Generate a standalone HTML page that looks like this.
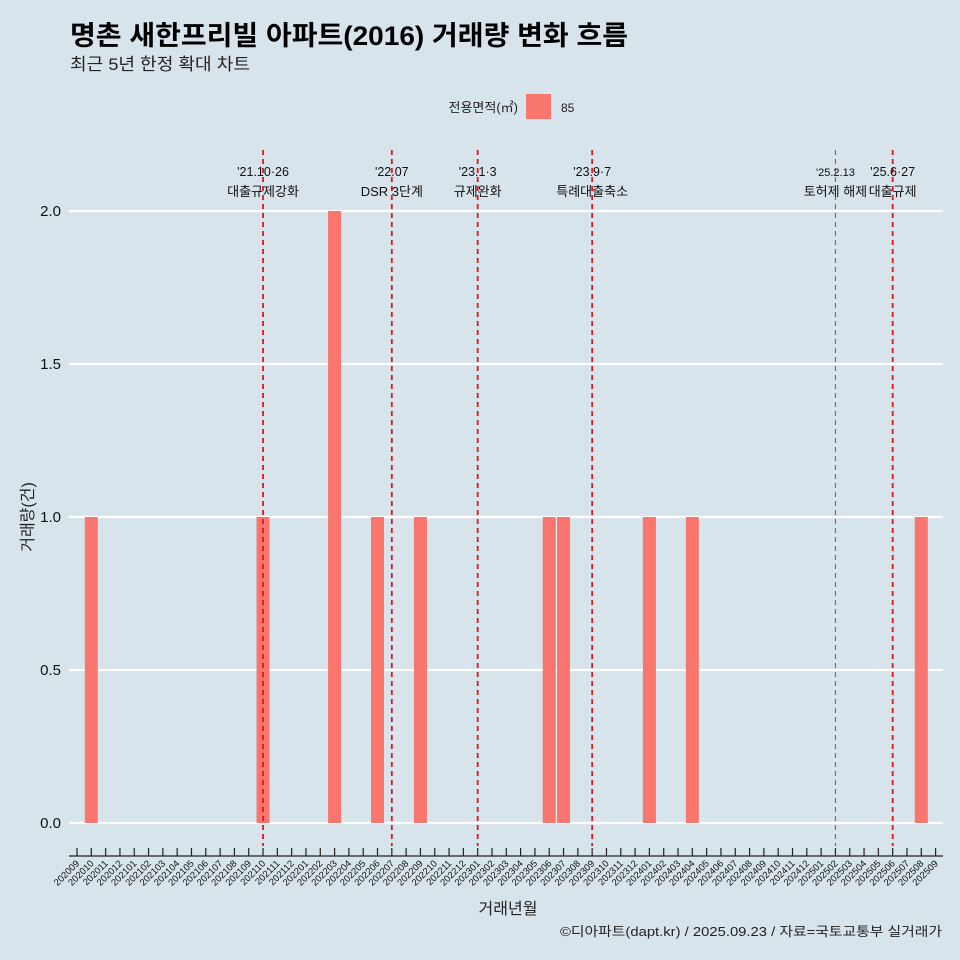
<!DOCTYPE html>
<html><head><meta charset="utf-8"><style>
body{margin:0;background:#d7e4eb;}
svg{display:block;font-family:"Liberation Sans","Noto Sans CJK KR",sans-serif;}
</style></head><body>
<svg id="chart" width="960" height="960" viewBox="0 0 960 960">
<rect width="960" height="960" fill="#d7e4eb"/>
<text x="70" y="45" font-size="27" font-weight="bold" fill="#000" textLength="558" lengthAdjust="spacingAndGlyphs">명촌 새한프리빌 아파트(2016) 거래량 변화 흐름</text>
<text x="70" y="70" font-size="17" fill="#222" textLength="180" lengthAdjust="spacingAndGlyphs">최근 5년 한정 확대 차트</text>
<g>
<text x="518" y="112" font-size="13" text-anchor="end" fill="#222">전용면적(㎡)</text>
<rect x="526" y="94" width="25" height="25" fill="#f8766d"/>
<text x="561" y="112" font-size="12" fill="#222">85</text>
</g>
<g id="grid"></g><g id="bars"></g><g id="vlines"></g><g id="xaxis"></g><g id="yaxis"></g>
<text x="508" y="914" font-size="16" text-anchor="middle" fill="#222">거래년월</text>
<text transform="translate(33,517) rotate(-90)" font-size="16" text-anchor="middle" fill="#222">거래량(건)</text>
<text x="942" y="936" font-size="13" text-anchor="end" fill="#222" textLength="382" lengthAdjust="spacingAndGlyphs">©디아파트(dapt.kr) / 2025.09.23 / 자료=국토교통부 실거래가</text>
</svg>
<script>
const months = [];
for (let y = 2020, m = 9; !(y === 2025 && m === 10); ) { months.push(String(y) + String(m).padStart(2, '0')); m++; if (m > 12) { m = 1; y++; } }
const barMonths = ['202010','202110','202203','202206','202209','202306','202307','202401','202404','202508'];
const barValues = [1,1,2,1,1,1,1,1,1,1];
const yTicks = [0, 0.5, 1, 1.5, 2];
const yTickLabels = ['0.0','0.5','1.0','1.5','2.0'];
const eventMonths = ['202110','202207','202301','202309','202502','202506'];
const eventDates = ["'21.10·26","'22.07","'23.1·3","'23.9·7","'25.2.13","'25.6·27"];
const eventLabels = ['대출규제강화','DSR 3단계','규제완화','특례대출축소','토허제 해제','대출규제'];

const NS = 'http://www.w3.org/2000/svg';
const X0 = 77, DX = 14.31, Y0 = 823, YS = 306;
const x = m => X0 + months.indexOf(m) * DX;
const xi = i => X0 + i * DX;
const y = v => Y0 - v * YS;
function mk(tag, attrs, parent, txt) {
  const e = document.createElementNS(NS, tag);
  for (const k in attrs) e.setAttribute(k, attrs[k]);
  if (txt !== undefined) e.textContent = txt;
  document.getElementById(parent).appendChild(e);
  return e;
}
yTicks.forEach((v, i) => {
  const g = mk('line', {x1: 69, x2: 943, y1: y(v), y2: y(v), stroke: '#fff', 'stroke-width': 2.2}, 'grid');
  
  
  const t = mk('text', {x: 61, y: y(v) + 5, 'font-size': 15, 'text-anchor': 'end', fill: '#111'}, 'yaxis', yTickLabels[i]);
  
  
});
barMonths.forEach((m, i) => {
  const r = mk('rect', {x: x(m) - 6.5, y: y(barValues[i]), width: 13, height: y(0) - y(barValues[i]), fill: '#f8766d'}, 'bars');
  
  
});
eventMonths.forEach((m, i) => {
  const thin = m === '202502';
  const l = mk('line', {x1: x(m), x2: x(m), y1: 150, y2: 846, stroke: thin ? '#f0303a' : '#e8141c', 'stroke-width': thin ? 1.1 : 1.8, 'stroke-dasharray': '5,4'}, 'vlines');
  
  
  const t1 = mk('text', {x: x(m), y: 176, 'font-size': thin ? 11 : 12.5, 'text-anchor': 'middle', fill: '#111'}, 'vlines', eventDates[i]);
  
  
  const t2 = mk('text', {x: x(m), y: 196, 'font-size': 13, 'text-anchor': 'middle', fill: '#111'}, 'vlines', eventLabels[i]);
  
  
});
const ax = mk('line', {x1: 69, x2: 943, y1: 856, y2: 856, stroke: '#222', 'stroke-width': 1.3}, 'xaxis');


months.forEach((m, i) => {
  const tk = mk('line', {x1: xi(i), x2: xi(i), y1: 848, y2: 856, stroke: '#222', 'stroke-width': 1.2}, 'xaxis');
  
  
  const t = mk('text', {x: xi(i) + 3, y: 864, 'font-size': 9.5, 'text-anchor': 'end', fill: '#111', transform: `rotate(-45 ${xi(i) + 3} 864)`}, 'xaxis', m);
  
  
});
</script>
</body></html>
